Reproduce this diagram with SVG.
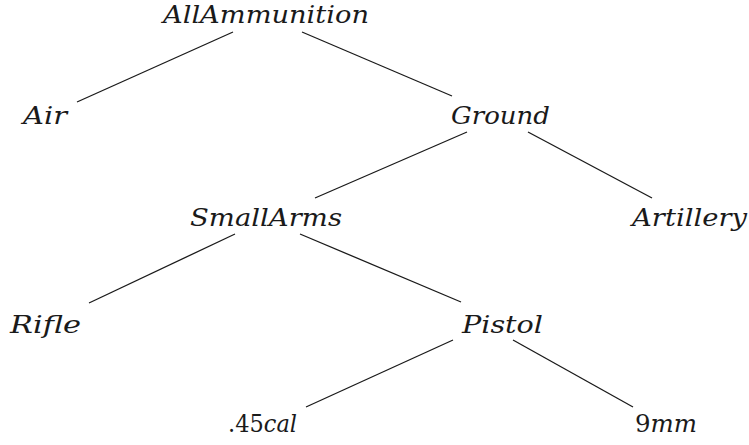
<svg xmlns="http://www.w3.org/2000/svg" width="749" height="445" viewBox="0 0 749 445">
<style>
line{stroke:#1a1a1a;stroke-width:1.3}
text{font-family:'DejaVu Serif','Liberation Serif',serif;font-size:24px;font-style:italic;fill:#1a1a1a}
</style>
<rect width="749" height="445" fill="#fff"/>
<g id="connectors">
<line x1="233" y1="32" x2="77" y2="102"/>
<line x1="302" y1="32" x2="452" y2="96"/>
<line x1="467" y1="132" x2="315" y2="198"/>
<line x1="528" y1="132" x2="652" y2="198"/>
<line x1="235" y1="234" x2="89" y2="303"/>
<line x1="300" y1="234" x2="461" y2="302"/>
<line x1="453" y1="340" x2="306" y2="407"/>
<line x1="513" y1="340" x2="633" y2="407"/>
</g>
<g id="AllAmmunition"><text x="163" y="23" textLength="206" lengthAdjust="spacingAndGlyphs">AllAmmunition</text></g>
<g id="Air"><text x="23" y="124" textLength="44" lengthAdjust="spacingAndGlyphs">Air</text></g>
<g id="Ground"><text x="451" y="124" textLength="99" lengthAdjust="spacingAndGlyphs">Ground</text></g>
<g id="SmallArms"><text x="190" y="226" textLength="152" lengthAdjust="spacingAndGlyphs">SmallArms</text></g>
<g id="Artillery"><text x="632" y="226" textLength="115" lengthAdjust="spacingAndGlyphs">Artillery</text></g>
<g id="Rifle"><text x="10" y="333" textLength="71" lengthAdjust="spacingAndGlyphs">Rifle</text></g>
<g id="Pistol"><text x="462" y="333" textLength="81" lengthAdjust="spacingAndGlyphs">Pistol</text></g>
<g id="cal45"><text x="228" y="432" textLength="69" lengthAdjust="spacingAndGlyphs"><tspan style="font-style:normal">.45</tspan>cal</text></g>
<g id="mm9"><text x="635" y="432" textLength="62" lengthAdjust="spacingAndGlyphs"><tspan style="font-style:normal">9</tspan>mm</text></g>
</svg>
